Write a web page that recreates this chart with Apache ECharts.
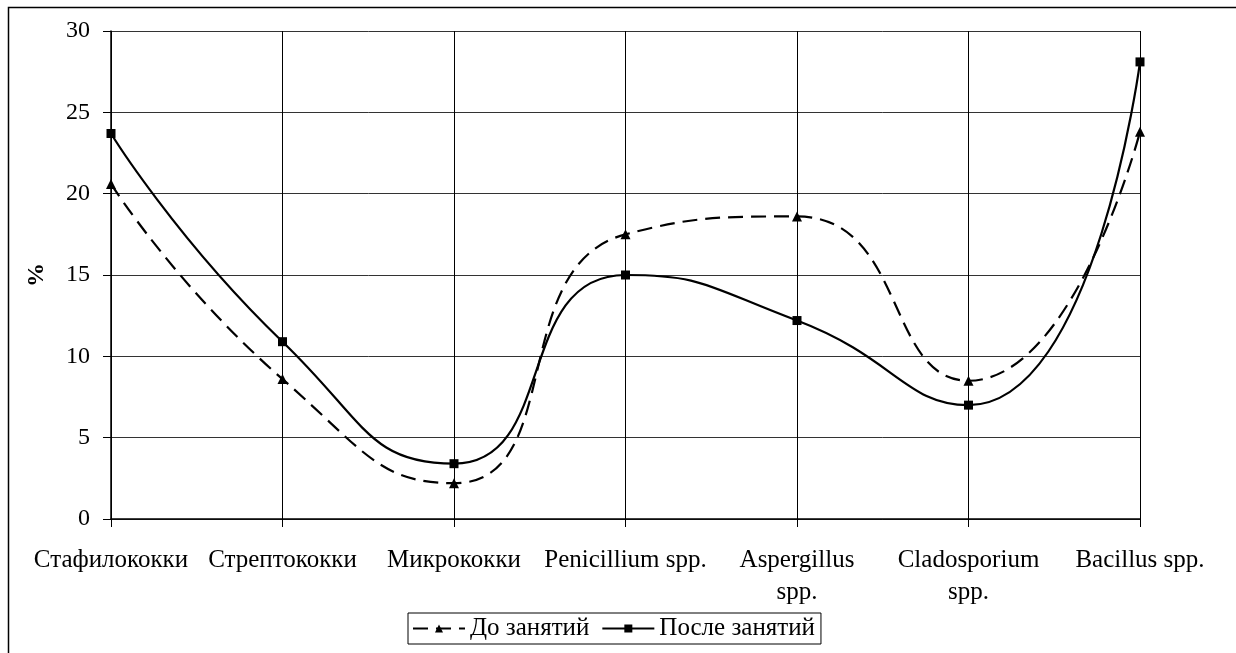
<!DOCTYPE html>
<html>
<head>
<meta charset="utf-8">
<script src="https://cdn.jsdelivr.net/npm/echarts@6/dist/echarts.min.js"></script>
<style>
html,body{margin:0;padding:0;background:#fff;}
#main{width:1236px;height:653px;}
</style>
</head>
<body>
<div id="main"></div>
<script>
// категории и значения
var categories=['Стафилококки','Стрептококки','Микрококки','Penicillium spp.','Aspergillus\nspp.','Cladosporium\nspp.','Bacillus spp.'];
var beforeVals=[20.6,8.6,2.2,17.5,18.6,8.5,23.8];
var afterVals=[23.7,10.9,3.4,15.0,12.2,7.0,28.1];
var yTicks={min:0,max:30,interval:5};

var chart=echarts.init(document.getElementById('main'));
var font='"Liberation Serif","Times New Roman",serif';
var option={
	backgroundColor:'#ffffff',
	animation:false,
	graphic:[{
		type:'rect',
		shape:{x:8.5,y:7.5,width:1240,height:660},
		style:{fill:'none',stroke:'#000',lineWidth:1.5},
		silent:true
	}],
	grid:{left:111,right:96,top:31,bottom:134},
	legend:{
		left:408,top:613,
		itemGap:12,
		itemWidth:52,itemHeight:10,
		padding:[3,6,3,4],
		borderColor:'#000',borderWidth:1,
		textStyle:{fontFamily:font,fontSize:25,color:'#000'},
		data:['До занятий','После занятий']
	},
	xAxis:{
		type:'category',
		data:categories,
		boundaryGap:false,
		axisLine:{lineStyle:{color:'#000',width:1.5}},
		axisTick:{show:true,length:8,lineStyle:{color:'#000'}},
		axisLabel:{interval:0,margin:25,fontFamily:font,fontSize:25,color:'#000',lineHeight:32},
		splitLine:{show:true,lineStyle:{color:'#000',width:1}}
	},
	yAxis:{
		type:'value',
		min:yTicks.min,max:yTicks.max,interval:yTicks.interval,
		name:'%',
		nameLocation:'middle',
		nameRotate:90,
		nameGap:62,
		nameTextStyle:{fontFamily:font,fontSize:24,fontWeight:'bold',color:'#000'},
		axisLine:{show:true,lineStyle:{color:'#000',width:1.5}},
		axisTick:{show:true,length:8,lineStyle:{color:'#000'}},
		axisLabel:{margin:21,fontFamily:font,fontSize:24,color:'#000'},
		splitLine:{show:true,lineStyle:{color:'#333',width:1}}
	},
	series:[
		{
			name:'До занятий',
			type:'line',
			data:beforeVals,
			smooth:0.55,
			symbol:'triangle',
			symbolSize:10,
			itemStyle:{color:'#000'},
			lineStyle:{color:'#000',width:2.2,type:[15,8]}
		},
		{
			name:'После занятий',
			type:'line',
			data:afterVals,
			smooth:0.55,
			symbol:'rect',
			symbolSize:9,
			itemStyle:{color:'#000'},
			lineStyle:{color:'#000',width:2.2,type:'solid'}
		}
	]
};
chart.setOption(option);
</script>
</body>
</html>
